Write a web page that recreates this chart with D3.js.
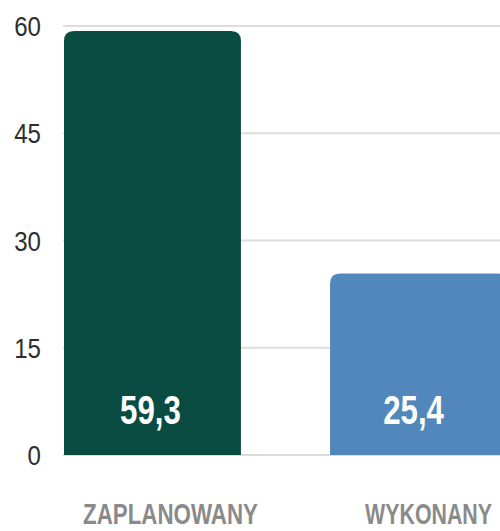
<!DOCTYPE html>
<html>
<head>
<meta charset="utf-8">
<script src="https://cdn.jsdelivr.net/npm/d3@7"></script>
<style>
  body { margin: 0; background: #fff; }
  svg { display: block; }
</style>
</head>
<body>
<svg id="chart" width="500" height="531"></svg>
<script>
(function () {
    // data
    const categories = ["ZAPLANOWANY", "WYKONANY"];
    const values = [59.3, 25.4];
    const valueLabels = ["59,3", "25,4"];
    const tickValues = [0, 15, 30, 45, 60];
    const colors = ["#0a4c41", "#5287bb"];
    const labelWidths = [175, 127]; // rendered width of the category labels

    const font = "'Liberation Sans', Arial, sans-serif";
    const svg = d3.select("#chart");

    const x = d3.scaleBand()
        .domain(categories)
        .range([64, 507])
        .paddingInner(0.335)
        .paddingOuter(0);

    const y = d3.scaleLinear()
        .domain([0, 60])
        .range([455, 26]);

    //gridlines
    svg.append("g")
        .selectAll("line")
        .data(tickValues)
        .join("line")
        .attr("x1", 63)
        .attr("x2", 500)
        .attr("y1", d => y(d))
        .attr("y2", d => y(d))
        .attr("stroke", "#dcdcdc")
        .attr("stroke-width", 2)

    //y tick labels, squeezed to look condensed
    svg.append("g")
        .selectAll("text")
        .data(tickValues)
        .join("text")
        .attr("transform", d => `translate(41,${y(d)}) scale(0.86,1)`)
        .attr("dy", "0.36em")
        .attr("text-anchor", "end")
        .attr("font-family", font)
        .attr("font-size", 28)
        .attr("fill", "#2e2e2e")
        .text(d => d)

    //bars with rounded top corners
    const r = 10;
    const barPath = function (d, i) {
        const x0 = x(categories[i]), w = x.bandwidth();
        const y0 = y(d), y1 = y(0);
        return `M${x0},${y1}V${y0 + r}Q${x0},${y0} ${x0 + r},${y0}H${x0 + w - r}Q${x0 + w},${y0} ${x0 + w},${y0 + r}V${y1}Z`;
    };

    svg.append("g")
        .selectAll("path")
        .data(values)
        .join("path")
        .attr("d", barPath)
        .attr("fill", (d, i) => colors[i])

    //value labels inside bars
    svg.append("g")
        .selectAll("text")
        .data(values)
        .join("text")
        .attr("transform", (d, i) => `translate(${x(categories[i]) + x.bandwidth() / 2 - (i === 1 ? 5 : 2)},424) scale(0.78,1)`)
        .attr("text-anchor", "middle")
        .attr("font-family", font)
        .attr("font-weight", "bold")
        .attr("font-size", 40)
        .attr("fill", "#ffffff")
        .text((d, i) => valueLabels[i])

    //category labels, squeezed horizontally to the widths seen in the picture
    svg.append("g")
        .selectAll("text")
        .data(categories)
        .join("text")
        .attr("text-anchor", "middle")
        .attr("font-family", font)
        .attr("font-weight", "bold")
        .attr("font-size", 30)
        .attr("fill", "#8a8a8a")
        .text(d => d)
        .attr("transform", function (d, i) {
            const k = labelWidths[i] / this.getComputedTextLength();
            const cx = x(d) + x.bandwidth() / 2 + (i === 0 ? 18 : 10);
            return `translate(${cx},524) scale(${k},1)`;
        })
})();
</script>
</body>
</html>
